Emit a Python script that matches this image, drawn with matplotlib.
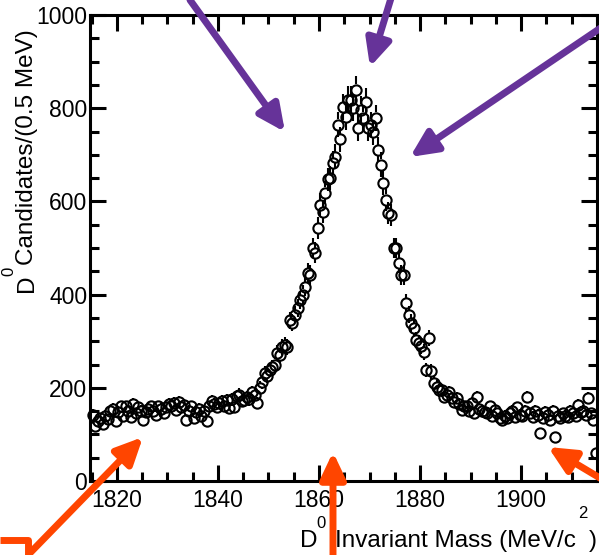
import numpy as np
import matplotlib
matplotlib.use("Agg")
import matplotlib.pyplot as plt

plt.rcParams['font.family'] = ['Liberation Sans', 'DejaVu Sans']

# D0 invariant mass spectrum, 0.5 MeV bins from 1815 to 1915 MeV
mass_lo = 1815.0
bin_width = 0.5
counts = [
    142, 118, 128, 135, 122, 140, 133, 150, 155, 128,   # 1815-1819
    148, 160, 140, 162, 150, 138, 165, 145, 158, 150,   # 1820-1824
    130, 148, 155, 160, 150, 142, 162, 155, 145, 158,   # 1825-1829
    165, 160, 168, 152, 170, 158, 163, 130, 150, 160,   # 1830-1834
    135, 148, 155, 140, 150, 128, 160, 172, 165, 158,   # 1835-1839
    168, 172, 160, 174, 157, 175, 158, 182, 185, 172,   # 1840-1844
    174, 180, 175, 190, 185, 168, 200, 213, 232, 225,   # 1845-1849
    238, 245, 250, 275, 270, 288, 292, 288, 345, 340,   # 1850-1854
    357, 371, 389, 400, 417, 447, 442, 500, 490, 543,   # 1855-1859
    593, 578, 619, 647, 651, 683, 696, 765, 733, 803,   # 1860-1864
    782, 818, 818, 800, 840, 758, 797, 780, 814, 758,   # 1865-1869
    765, 748, 780, 711, 679, 640, 604, 575, 571, 500,   # 1870-1874
    500, 468, 442, 442, 382, 357, 339, 329, 303, 296,   # 1875-1879
    289, 277, 238, 307, 235, 210, 202, 195, 195, 180,   # 1880-1884
    185, 191, 178, 170, 178, 165, 153, 160, 160, 150,   # 1885-1889
    168, 145, 180, 155, 150, 148, 145, 160, 140, 152,   # 1890-1894
    145, 135, 131, 140, 135, 145, 150, 138, 158, 142,   # 1895-1899
    140, 150, 180, 145, 138, 150, 142, 103, 135, 148,   # 1900-1904
    142, 130, 150, 95, 140, 135, 145, 140, 137, 150,    # 1905-1909
    145, 140, 163, 148, 150, 142, 178, 145, 131, 60,    # 1910-1914
]

counts = np.array(counts, dtype=float)
mass = mass_lo + bin_width * (np.arange(len(counts)) + 0.5)
err = np.sqrt(counts)

W, H = 599, 555
fig = plt.figure(figsize=(W / 100, H / 100), dpi=100)
ax = fig.add_axes([90 / W, 1 - 481 / H, (597 - 90) / W, (481 - 15) / H])

# error bars drawn outside the open circle only
r = 11.0
up = err > r
ax.vlines(mass[up], counts[up] + r, counts[up] + err[up], color='black', lw=1.5, zorder=2)
ax.vlines(mass[up], counts[up] - err[up], counts[up] - r, color='black', lw=1.5, zorder=2)
ax.plot(mass, counts, 'o', ms=7.4, mfc='none', mec='black', mew=1.5, zorder=3, clip_on=False)

ax.set_xlim(1814.7, 1915)
ax.set_ylim(0, 1000)
ax.set_xticks([1820, 1840, 1860, 1880, 1900])
ax.set_yticks([0, 200, 400, 600, 800, 1000])
ax.xaxis.set_minor_locator(matplotlib.ticker.MultipleLocator(5))
ax.yaxis.set_minor_locator(matplotlib.ticker.MultipleLocator(50))
ax.tick_params(which='both', direction='in', top=True, right=True, width=2.2, labelsize=16.5)
ax.tick_params(which='major', length=11.5)
ax.tick_params(which='minor', length=6.5)
ax.tick_params(axis='y', pad=2)
ax.tick_params(axis='x', pad=6)
for s in ax.spines.values():
    s.set_linewidth(2.2)

# axis labels with raised superscripts
fs = 17.5
fig.text(300 / W, 1 - 547 / H, "D", fontsize=fs, ha='left', va='baseline')
fig.text(316 / W, 1 - 528 / H, "0", fontsize=12, ha='left', va='baseline')
fig.text(335 / W, 1 - 547 / H, "Invariant Mass (MeV/c", fontsize=fs, ha='left', va='baseline')
fig.text(578 / W, 1 - 518 / H, "2", fontsize=12, ha='left', va='baseline')
fig.text(589 / W, 1 - 547 / H, ")", fontsize=fs, ha='left', va='baseline')

fig.text(27 / W, 1 - 292 / H, "D", fontsize=fs, rotation=90, ha='center', va='bottom')
fig.text(9 / W, 1 - 276 / H, "0", fontsize=12, rotation=90, ha='center', va='bottom')
fig.text(27 / W, 1 - 265 / H, "Candidates/(0.5 MeV)", fontsize=fs, rotation=90, ha='center', va='bottom')

# annotation arrows (image pixel coords: start, tip)
purple = '#663399'
orange = '#ff4500'
arrows = [
    ((190, 0), (285, 132), purple),
    ((392, -5), (370, 67), purple),
    ((605, 25), (410, 157), purple),
    ((30, 553), (143, 437), orange),
    ((333, 560), (333, 452), orange),
    ((605, 481), (548, 447), orange),
]
for (x0, y0), (x1, y1), c in arrows:
    ax.annotate('', xy=(x1, H - y1), xytext=(x0, H - y0),
                xycoords='figure pixels', textcoords='figure pixels',
                arrowprops=dict(arrowstyle='-|>,head_length=0.8,head_width=0.38',
                                lw=5, color=c, mutation_scale=20,
                                shrinkA=0, shrinkB=0),
                annotation_clip=False)

# elbow on the lower-left arrow
ax.plot([0, 28, 28], [H - 540, H - 540, H - 555], color=orange, lw=5,
        transform=None, clip_on=False, solid_capstyle='butt')

fig.savefig('out.png', dpi=100)
